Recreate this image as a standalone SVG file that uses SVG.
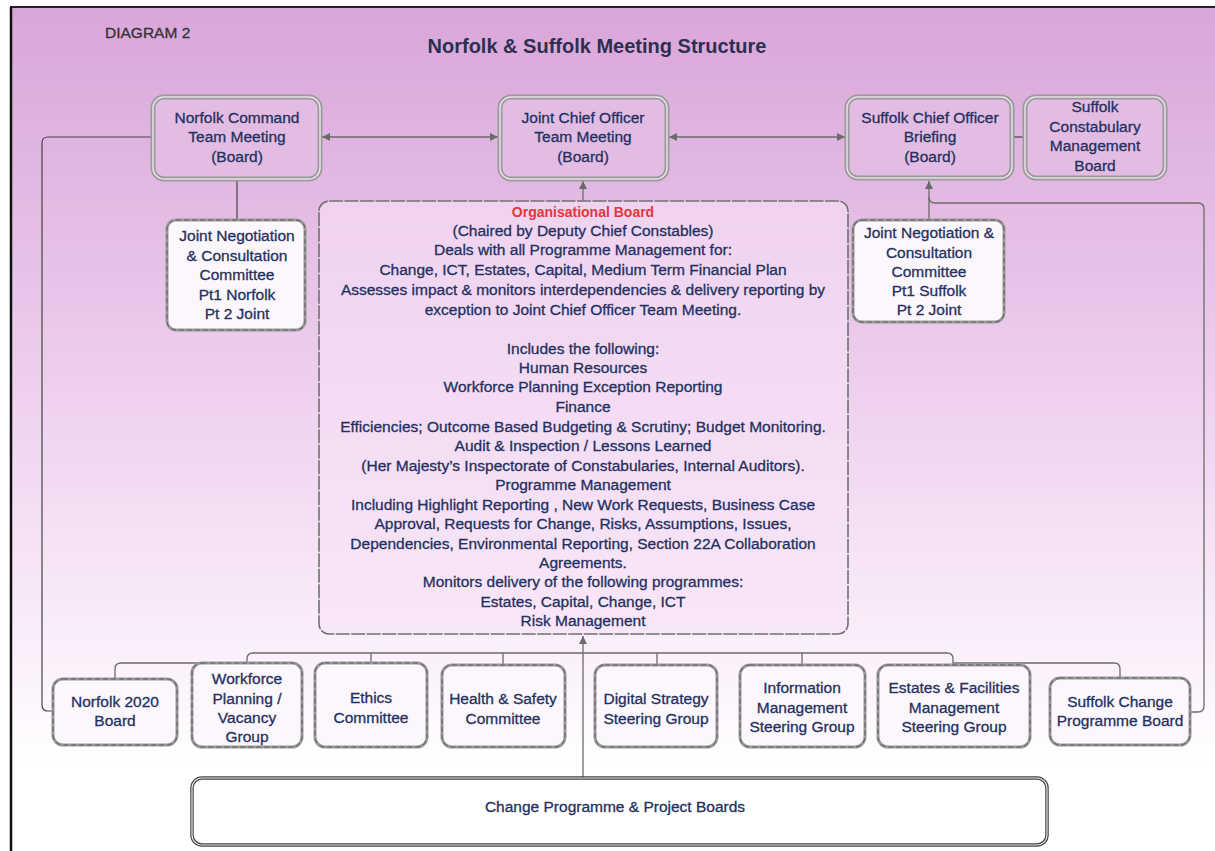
<svg xmlns="http://www.w3.org/2000/svg" width="1215" height="851" viewBox="0 0 1215 851">
<style>
.t{font-family:"Liberation Sans",Arial,sans-serif;font-size:15.5px;fill:#243060;stroke:#243060;stroke-width:0.3px;text-anchor:middle}
.ttl{font-family:"Liberation Sans",Arial,sans-serif;font-size:20px;font-weight:bold;fill:#2b3050;text-anchor:middle}
.dg{font-family:"Liberation Sans",Arial,sans-serif;font-size:15.5px;fill:#333;stroke:#333;stroke-width:0.3px}
.red{font-family:"Liberation Sans",Arial,sans-serif;font-size:14px;font-weight:bold;fill:#e8343c;text-anchor:middle}
.topo{fill:#e2bce2;stroke:#9a9a9a;stroke-width:5}
.topi{fill:none;stroke:#eadfea;stroke-width:1.5}
.bo{fill:#fcf7fc;stroke:#9a9a9a;stroke-width:3}
.bi{fill:none;stroke:#5e5e5e;stroke-width:1;stroke-dasharray:5 3}
.org{fill:#f6e2f6;fill-opacity:0.6;stroke:#707070;stroke-width:1.6;stroke-dasharray:14 1.5}
.cpo{fill:#fff;stroke:#444;stroke-width:3.5}
.cpi{fill:none;stroke:#e6e6e6;stroke-width:1.2}
.c{fill:none;stroke:#6b6b6b;stroke-width:1.3}
.cd{fill:none;stroke:#444;stroke-width:1.2}
</style>
<defs>
<linearGradient id="bg" x1="0" y1="0" x2="0" y2="1">
<stop offset="0" stop-color="#d9a6d9"/>
<stop offset="0.25" stop-color="#e4bce4"/>
<stop offset="0.5" stop-color="#f0d5f0"/>
<stop offset="0.75" stop-color="#faeefa"/>
<stop offset="0.9" stop-color="#ffffff"/>
</linearGradient>
<marker id="ah" viewBox="0 0 10 10" refX="10" refY="5" markerWidth="9" markerHeight="8" orient="auto-start-reverse" markerUnits="userSpaceOnUse"><path d="M0,0 L10,5 L0,10 z" fill="#6b6b6b"/></marker>
</defs>
<rect width="1215" height="851" fill="#fff"/>
<rect x="11" y="7" width="1204" height="844" fill="url(#bg)"/>
<line x1="10" y1="7" x2="1215" y2="7" stroke="#222" stroke-width="2"/>
<line x1="11" y1="7" x2="11" y2="851" stroke="#111" stroke-width="2.5"/>
<text class="dg" x="105" y="38">DIAGRAM 2</text>
<text class="ttl" x="597" y="53">Norfolk &amp; Suffolk Meeting Structure</text>

<g id="connectors">
<line class="c" x1="322" y1="137" x2="498" y2="137" marker-start="url(#ah)" marker-end="url(#ah)"/>
<line class="c" x1="669" y1="137" x2="845" y2="137" marker-start="url(#ah)" marker-end="url(#ah)"/>
<line class="cd" x1="1012" y1="137" x2="1025" y2="137"/>
<line class="cd" x1="237" y1="180" x2="237" y2="219"/>
<line class="c" x1="583" y1="200" x2="583" y2="181" marker-end="url(#ah)"/>
<line class="c" x1="929" y1="220" x2="929" y2="181" marker-end="url(#ah)"/>
<path class="cd" d="M153,137 H48 Q42,137 42,143 V705 Q42,711 48,711 H53"/>
<path class="c" d="M1190,712 H1198 Q1204,712 1204,706 V209 Q1204,203 1198,203 H935 Q929,203 929,197"/>
<line class="c" x1="583" y1="778" x2="583" y2="636" marker-end="url(#ah)"/>
<path class="c" d="M247,663 V659 Q247,653 253,653 H947 Q953,653 953,659 V665"/>
<path class="c" d="M115,679 V669 Q115,663 121,663 H247"/>
<path class="c" d="M1120,678 V669 Q1120,663 1114,663 H953"/>
<path class="c" d="M371,653 V663 M503,653 V665 M657,653 V665 M802,653 V665"/>
</g>

<g id="norfolk-command">
<rect class="topo" x="153" y="97" width="167" height="82" rx="11"/>
<rect class="topi" x="153" y="97" width="167" height="82" rx="11"/>
<text class="t" x="237" y="123">Norfolk Command</text>
<text class="t" x="237" y="142">Team Meeting</text>
<text class="t" x="237" y="162">(Board)</text>
</g>
<g id="joint-chief">
<rect class="topo" x="500" y="97" width="167" height="82" rx="11"/>
<rect class="topi" x="500" y="97" width="167" height="82" rx="11"/>
<text class="t" x="583" y="123">Joint Chief Officer</text>
<text class="t" x="583" y="142">Team Meeting</text>
<text class="t" x="583" y="162">(Board)</text>
</g>
<g id="suffolk-chief">
<rect class="topo" x="847" y="97" width="165" height="81" rx="11"/>
<rect class="topi" x="847" y="97" width="165" height="81" rx="11"/>
<text class="t" x="930" y="123">Suffolk Chief Officer</text>
<text class="t" x="930" y="142">Briefing</text>
<text class="t" x="930" y="162">(Board)</text>
</g>
<g id="suffolk-constabulary">
<rect class="topo" x="1025" y="97" width="140" height="81" rx="11"/>
<rect class="topi" x="1025" y="97" width="140" height="81" rx="11"/>
<text class="t" x="1095" y="112">Suffolk</text>
<text class="t" x="1095" y="132">Constabulary</text>
<text class="t" x="1095" y="151">Management</text>
<text class="t" x="1095" y="171">Board</text>
</g>
<g id="jncc-norfolk">
<rect class="bo" x="167" y="220" width="138" height="110" rx="9"/>
<rect class="bi" x="167" y="220" width="138" height="110" rx="9"/>
<text class="t" x="237" y="241">Joint Negotiation</text>
<text class="t" x="237" y="261">&amp; Consultation</text>
<text class="t" x="237" y="280">Committee</text>
<text class="t" x="237" y="300">Pt1 Norfolk</text>
<text class="t" x="237" y="319">Pt 2 Joint</text>
</g>
<g id="jncc-suffolk">
<rect class="bo" x="853" y="220" width="151" height="102" rx="9"/>
<rect class="bi" x="853" y="220" width="151" height="102" rx="9"/>
<text class="t" x="929" y="238">Joint Negotiation &amp;</text>
<text class="t" x="929" y="258">Consultation</text>
<text class="t" x="929" y="277">Committee</text>
<text class="t" x="929" y="296">Pt1 Suffolk</text>
<text class="t" x="929" y="315">Pt 2 Joint</text>
</g>
<g id="organisational-board">
<rect class="org" x="319" y="201" width="529" height="433" rx="10"/>
<text class="red" x="583" y="217">Organisational Board</text>
<text class="t" x="583" y="236">(Chaired by Deputy Chief Constables)</text>
<text class="t" x="583" y="255">Deals with all Programme Management for:</text>
<text class="t" x="583" y="275">Change, ICT, Estates, Capital, Medium Term Financial Plan</text>
<text class="t" x="583" y="295">Assesses impact &amp; monitors interdependencies &amp; delivery reporting by</text>
<text class="t" x="583" y="315">exception to Joint Chief Officer Team Meeting.</text>
<text class="t" x="583" y="354">Includes the following:</text>
<text class="t" x="583" y="373">Human Resources</text>
<text class="t" x="583" y="392">Workforce Planning Exception Reporting</text>
<text class="t" x="583" y="412">Finance</text>
<text class="t" x="583" y="432">Efficiencies; Outcome Based Budgeting &amp; Scrutiny; Budget Monitoring.</text>
<text class="t" x="583" y="451">Audit &amp; Inspection / Lessons Learned</text>
<text class="t" x="583" y="471">(Her Majesty’s Inspectorate of Constabularies, Internal Auditors).</text>
<text class="t" x="583" y="490">Programme Management</text>
<text class="t" x="583" y="510">Including Highlight Reporting , New Work Requests, Business Case</text>
<text class="t" x="583" y="529">Approval, Requests for Change, Risks, Assumptions, Issues,</text>
<text class="t" x="583" y="549">Dependencies, Environmental Reporting, Section 22A Collaboration</text>
<text class="t" x="583" y="568">Agreements.</text>
<text class="t" x="583" y="587">Monitors delivery of the following programmes:</text>
<text class="t" x="583" y="607">Estates, Capital, Change, ICT</text>
<text class="t" x="583" y="626">Risk Management</text>
</g>
<g id="norfolk-2020">
<rect class="bo" x="53" y="679" width="124" height="66" rx="10"/>
<rect class="bi" x="53" y="679" width="124" height="66" rx="10"/>
<text class="t" x="115" y="707">Norfolk 2020</text>
<text class="t" x="115" y="726">Board</text>
</g>
<g id="workforce">
<rect class="bo" x="192" y="663" width="110" height="84" rx="10"/>
<rect class="bi" x="192" y="663" width="110" height="84" rx="10"/>
<text class="t" x="247" y="684">Workforce</text>
<text class="t" x="247" y="704">Planning /</text>
<text class="t" x="247" y="723">Vacancy</text>
<text class="t" x="247" y="742">Group</text>
</g>
<g id="ethics">
<rect class="bo" x="315" y="663" width="112" height="84" rx="10"/>
<rect class="bi" x="315" y="663" width="112" height="84" rx="10"/>
<text class="t" x="371" y="703">Ethics</text>
<text class="t" x="371" y="723">Committee</text>
</g>
<g id="health-safety">
<rect class="bo" x="442" y="665" width="123" height="82" rx="10"/>
<rect class="bi" x="442" y="665" width="123" height="82" rx="10"/>
<text class="t" x="503" y="704">Health &amp; Safety</text>
<text class="t" x="503" y="724">Committee</text>
</g>
<g id="digital-strategy">
<rect class="bo" x="595" y="665" width="122" height="82" rx="10"/>
<rect class="bi" x="595" y="665" width="122" height="82" rx="10"/>
<text class="t" x="656" y="704">Digital Strategy</text>
<text class="t" x="656" y="724">Steering Group</text>
</g>
<g id="information-management">
<rect class="bo" x="740" y="665" width="125" height="82" rx="10"/>
<rect class="bi" x="740" y="665" width="125" height="82" rx="10"/>
<text class="t" x="802" y="693">Information</text>
<text class="t" x="802" y="713">Management</text>
<text class="t" x="802" y="732">Steering Group</text>
</g>
<g id="estates-facilities">
<rect class="bo" x="878" y="665" width="152" height="82" rx="10"/>
<rect class="bi" x="878" y="665" width="152" height="82" rx="10"/>
<text class="t" x="954" y="693">Estates &amp; Facilities</text>
<text class="t" x="954" y="713">Management</text>
<text class="t" x="954" y="732">Steering Group</text>
</g>
<g id="suffolk-change">
<rect class="bo" x="1050" y="678" width="140" height="67" rx="10"/>
<rect class="bi" x="1050" y="678" width="140" height="67" rx="10"/>
<text class="t" x="1120" y="707">Suffolk Change</text>
<text class="t" x="1120" y="726">Programme Board</text>
</g>
<g id="change-programme">
<rect class="cpo" x="192" y="778" width="855" height="67" rx="10"/>
<rect class="cpi" x="192" y="778" width="855" height="67" rx="10"/>
<text class="t" x="615" y="812">Change Programme &amp; Project Boards</text>
</g>
</svg>
